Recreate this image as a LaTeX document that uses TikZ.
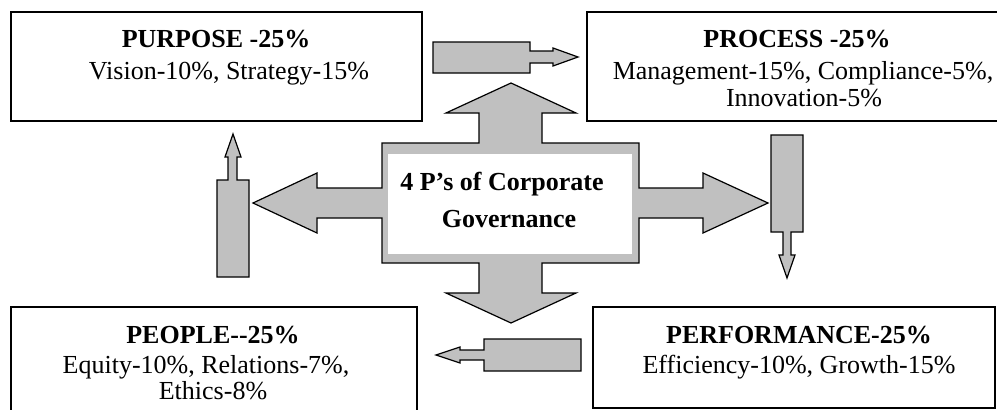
\documentclass[tikz,border=0pt]{standalone}
\usepackage{fontspec}
\setmainfont{Liberation Serif}
\begin{document}
\begin{tikzpicture}[x=1pt,y=-1pt,
  box/.style={draw=black,line width=1.4pt,fill=white},
  blockarrow/.style={draw=black,line width=1.2pt,fill=arrowgray,line join=miter},
  txt/.style={inner sep=0pt,anchor=base,font=\fontsize{26}{30}\selectfont},
  head/.style={txt,font=\fontsize{26}{30}\selectfont\bfseries}]
\definecolor{arrowgray}{HTML}{C0C0C0}
\useasboundingbox (0,0) rectangle (997,410);
\clip (0,0) rectangle (997,410);

% four outer boxes
\draw[box] (11,12) rectangle (422,121);
\draw[box] (587,12) rectangle (1013,121);
\draw[box] (11,307) rectangle (417,420);
\draw[box] (593,307) rectangle (995,408);

% central cross with four block arrows
\draw[blockarrow] (511,83) -- (576,113) -- (542,113) -- (542,143) -- (639,143)
  -- (639,188) -- (703,188) -- (703,173) -- (768,203) -- (703,233) -- (703,218)
  -- (639,218) -- (639,263) -- (542,263) -- (542,293) -- (576,293) -- (511,323)
  -- (446,293) -- (479,293) -- (479,263) -- (382,263) -- (382,218) -- (317,218)
  -- (317,233) -- (253,203) -- (317,173) -- (317,188) -- (382,188) -- (382,143)
  -- (479,143) -- (479,113) -- (446,113) -- cycle;
\fill[white] (388,154) rectangle (632,254);

% small arrows running round the cycle
\draw[blockarrow] (433,42) -- (530,42) -- (530,51) -- (553,51) -- (553,48)
  -- (578,57) -- (553,66) -- (553,63) -- (530,63) -- (530,73) -- (433,73) -- cycle;
\draw[blockarrow] (771,135) -- (803,135) -- (803,232) -- (791,232) -- (791,255)
  -- (795,255) -- (787,278) -- (779,255) -- (783,255) -- (783,232) -- (771,232) -- cycle;
\draw[blockarrow] (581,339) -- (581,371) -- (484,371) -- (484,360) -- (460,360)
  -- (460,363) -- (436,355) -- (460,347) -- (460,350) -- (484,350) -- (484,339) -- cycle;
\draw[blockarrow] (217,277) -- (217,180) -- (228,180) -- (228,157) -- (225,157)
  -- (233,134) -- (241,157) -- (237,157) -- (237,180) -- (249,180) -- (249,277) -- cycle;

% texts
\node[head] (purposeH) at (216,47) {PURPOSE -25\%};
\node[txt]  (purposeT) at (229,79) {Vision-10\%, Strategy-15\%};

\node[head] (processH) at (797,47) {PROCESS -25\%};
\node[txt]  (processT) at (803,79) {Management-15\%, Compliance-5\%,};
\node[txt]  (processU) at (804,106) {Innovation-5\%};

\node[head] (centreA) at (502,190) {4 P’s of Corporate};
\node[head] (centreB) at (509,227) {Governance};

\node[head] (peopleH) at (213,343) {PEOPLE-{}-25\%};
\node[txt]  (peopleT) at (206,373) {Equity-10\%, Relations-7\%,};
\node[txt]  (peopleU) at (213,399) {Ethics-8\%};

\node[head] (perfH) at (799,343) {PERFORMANCE-25\%};
\node[txt]  (perfT) at (799,373) {Efficiency-10\%, Growth-15\%};
\end{tikzpicture}
\end{document}
